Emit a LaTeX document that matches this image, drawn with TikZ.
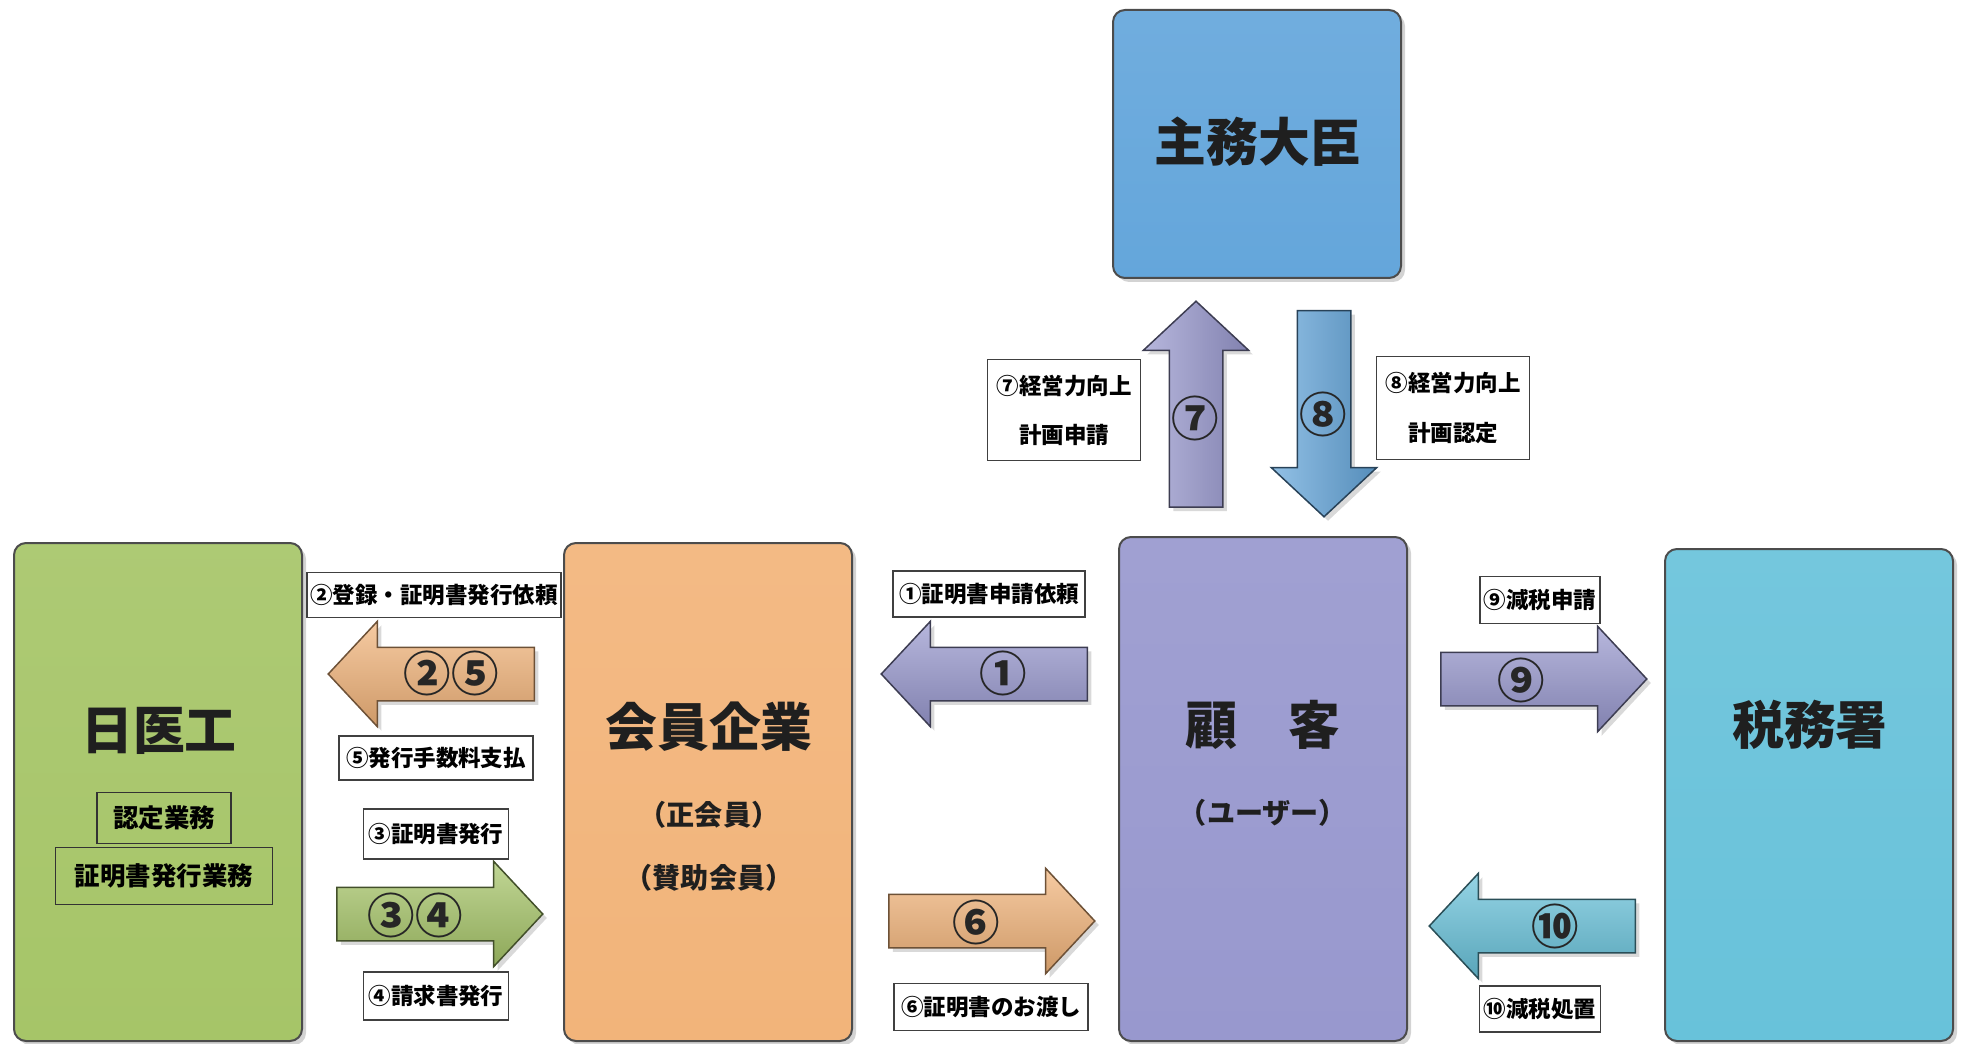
\documentclass[tikz,border=0pt]{standalone}
\usepackage{fontspec}
\setmainfont{Noto Sans CJK JP}
\usepackage{tikz}
\usetikzlibrary{shapes,arrows,positioning,shadows}
\newdimen\pu \pu=0.2mm
\definecolor{cgreen}{RGB}{166,197,104}
\definecolor{corange}{RGB}{242,180,122}
\definecolor{cpurple}{RGB}{152,152,206}
\definecolor{cteal}{RGB}{104,194,218}
\definecolor{cblue}{RGB}{100,166,219}
\tikzstyle{party} = [rectangle, rounded corners=12\pu, draw=black!70, line width=2\pu, minimum width=288\pu, drop shadow={shadow xshift=4\pu,shadow yshift=-4\pu,opacity=0.35}]
\tikzstyle{title} = [font=\fontsize{29.5}{34}\selectfont\bfseries, text=black!88]
\tikzstyle{subtitle} = [font=\fontsize{16}{20}\selectfont\bfseries, text=black!88]
\tikzstyle{duty} = [rectangle, draw=black!80, line width=1.3\pu, inner sep=0pt, font=\fontsize{14.5}{18}\selectfont\bfseries]
\tikzstyle{caption} = [rectangle, draw=black!75, fill=white, line width=1.3\pu, inner sep=0pt, align=center, font=\fontsize{12.8}{28}\selectfont\bfseries]
\tikzstyle{fat} = [single arrow, anchor=tail, inner sep=26\pu, line width=1.5\pu, minimum height=206\pu, single arrow head extend=26\pu, single arrow tip angle=94, drop shadow={shadow xshift=4\pu,shadow yshift=-4\pu,opacity=0.3}]
\tikzstyle{num} = [font=\fontsize{27}{30}\selectfont\bfseries, text=black!85]

\begin{document}
\begin{tikzpicture}[x=\pu,y=-\pu]
    \useasboundingbox (0,0) rectangle (1966,1044);

    % the five parties
    \node [party, minimum height=268\pu, top color=cblue!92!white, bottom color=cblue] (daijin) at (1257,144) {};
    \node [party, minimum height=498\pu, top color=cgreen!92!white, bottom color=cgreen] (nikkoi) at (158,792) {};
    \node [party, minimum height=498\pu, top color=corange!92!white, bottom color=corange] (kaiin) at (708,792) {};
    \node [party, minimum height=504\pu, top color=cpurple!92!white, bottom color=cpurple] (kokyaku) at (1263,789) {};
    \node [party, minimum height=492\pu, top color=cteal!92!white, bottom color=cteal] (zeimu) at (1809,795) {};

    \node [title] (daijinname) at (1258,142) {主務大臣};
    \node [title] (nikkoiname) at (159,731) {日医工};
    \node [title] (kaiinname) at (709,727) {会員企業};
    \node [title] (kokyakuname) at (1263,725) {顧　客};
    \node [title] (zeimuname) at (1810,725) {税務署};

    \node [subtitle] (seikaiin) at (709,815) {（正会員）};
    \node [subtitle] (sanjo) at (709,878) {（賛助会員）};
    \node [subtitle] (user) at (1263,813) {（ユーザー）};

    \node [duty, minimum width=134\pu, minimum height=51\pu] (nintei) at (164,818) {認定業務};
    \node [duty, minimum width=217\pu, minimum height=57\pu] (hakko) at (164,876) {証明書発行業務};

    % flows
    \node [fat, shape border rotate=180, draw=corange!45!black, top color=corange!70!white, middle color=corange, bottom color=corange!85!black] (a25) at (535,674) {};
    \node [fat, draw=cgreen!40!black, top color=cgreen!70!white, middle color=cgreen, bottom color=cgreen!85!black] (a34) at (336,914) {};
    \node [fat, shape border rotate=180, draw=cpurple!40!black, top color=cpurple!70!white, middle color=cpurple, bottom color=cpurple!85!black] (a1) at (1088,674) {};
    \node [fat, draw=corange!45!black, top color=corange!70!white, middle color=corange, bottom color=corange!85!black] (a6) at (888,921) {};
    \node [fat, draw=cpurple!40!black, top color=cpurple!70!white, middle color=cpurple, bottom color=cpurple!85!black] (a9) at (1440,679) {};
    \node [fat, shape border rotate=180, draw=cteal!40!black, top color=cteal!70!white, middle color=cteal, bottom color=cteal!85!black] (a10) at (1636,926) {};
    \node [fat, shape border rotate=90, draw=cpurple!40!black, left color=cpurple!70!white, middle color=cpurple, right color=cpurple!85!black] (a7) at (1196,508) {};
    \node [fat, shape border rotate=270, draw=cblue!40!black, left color=cblue!70!white, middle color=cblue, right color=cblue!85!black] (a8) at (1324,310) {};

    \node [num] at (451,673) {②⑤};
    \node [num] at (415,915) {③④};
    \node [num] at (1003,673) {①};
    \node [num] at (976,922) {⑥};
    \node [num] at (1521,680) {⑨};
    \node [num] at (1555,926) {⑩};
    \node [num] at (1195,418) {⑦};
    \node [num] at (1323,414) {⑧};

    % captions
    \node [caption, minimum width=254\pu, minimum height=45\pu] (c2) at (434,595) {②登録・証明書発行依頼};
    \node [caption, minimum width=194\pu, minimum height=44\pu] (c5) at (436,758) {⑤発行手数料支払};
    \node [caption, minimum width=145\pu, minimum height=50\pu] (c3) at (436,834) {③証明書発行};
    \node [caption, minimum width=145\pu, minimum height=48\pu] (c4) at (436,996) {④請求書発行};
    \node [caption, minimum width=192\pu, minimum height=46\pu] (c1) at (989,594) {①証明書申請依頼};
    \node [caption, minimum width=194\pu, minimum height=47\pu] (c6) at (991,1007) {⑥証明書のお渡し};
    \node [caption, minimum width=120\pu, minimum height=47\pu] (c9) at (1540,600) {⑨減税申請};
    \node [caption, minimum width=121\pu, minimum height=46\pu] (c10) at (1540,1009) {⑩減税処置};
    \node [caption, minimum width=153\pu, minimum height=101\pu] (c7) at (1064,410) {⑦経営力向上\\計画申請};
    \node [caption, minimum width=153\pu, minimum height=103\pu] (c8) at (1453,408) {⑧経営力向上\\計画認定};
\end{tikzpicture}
\end{document}
